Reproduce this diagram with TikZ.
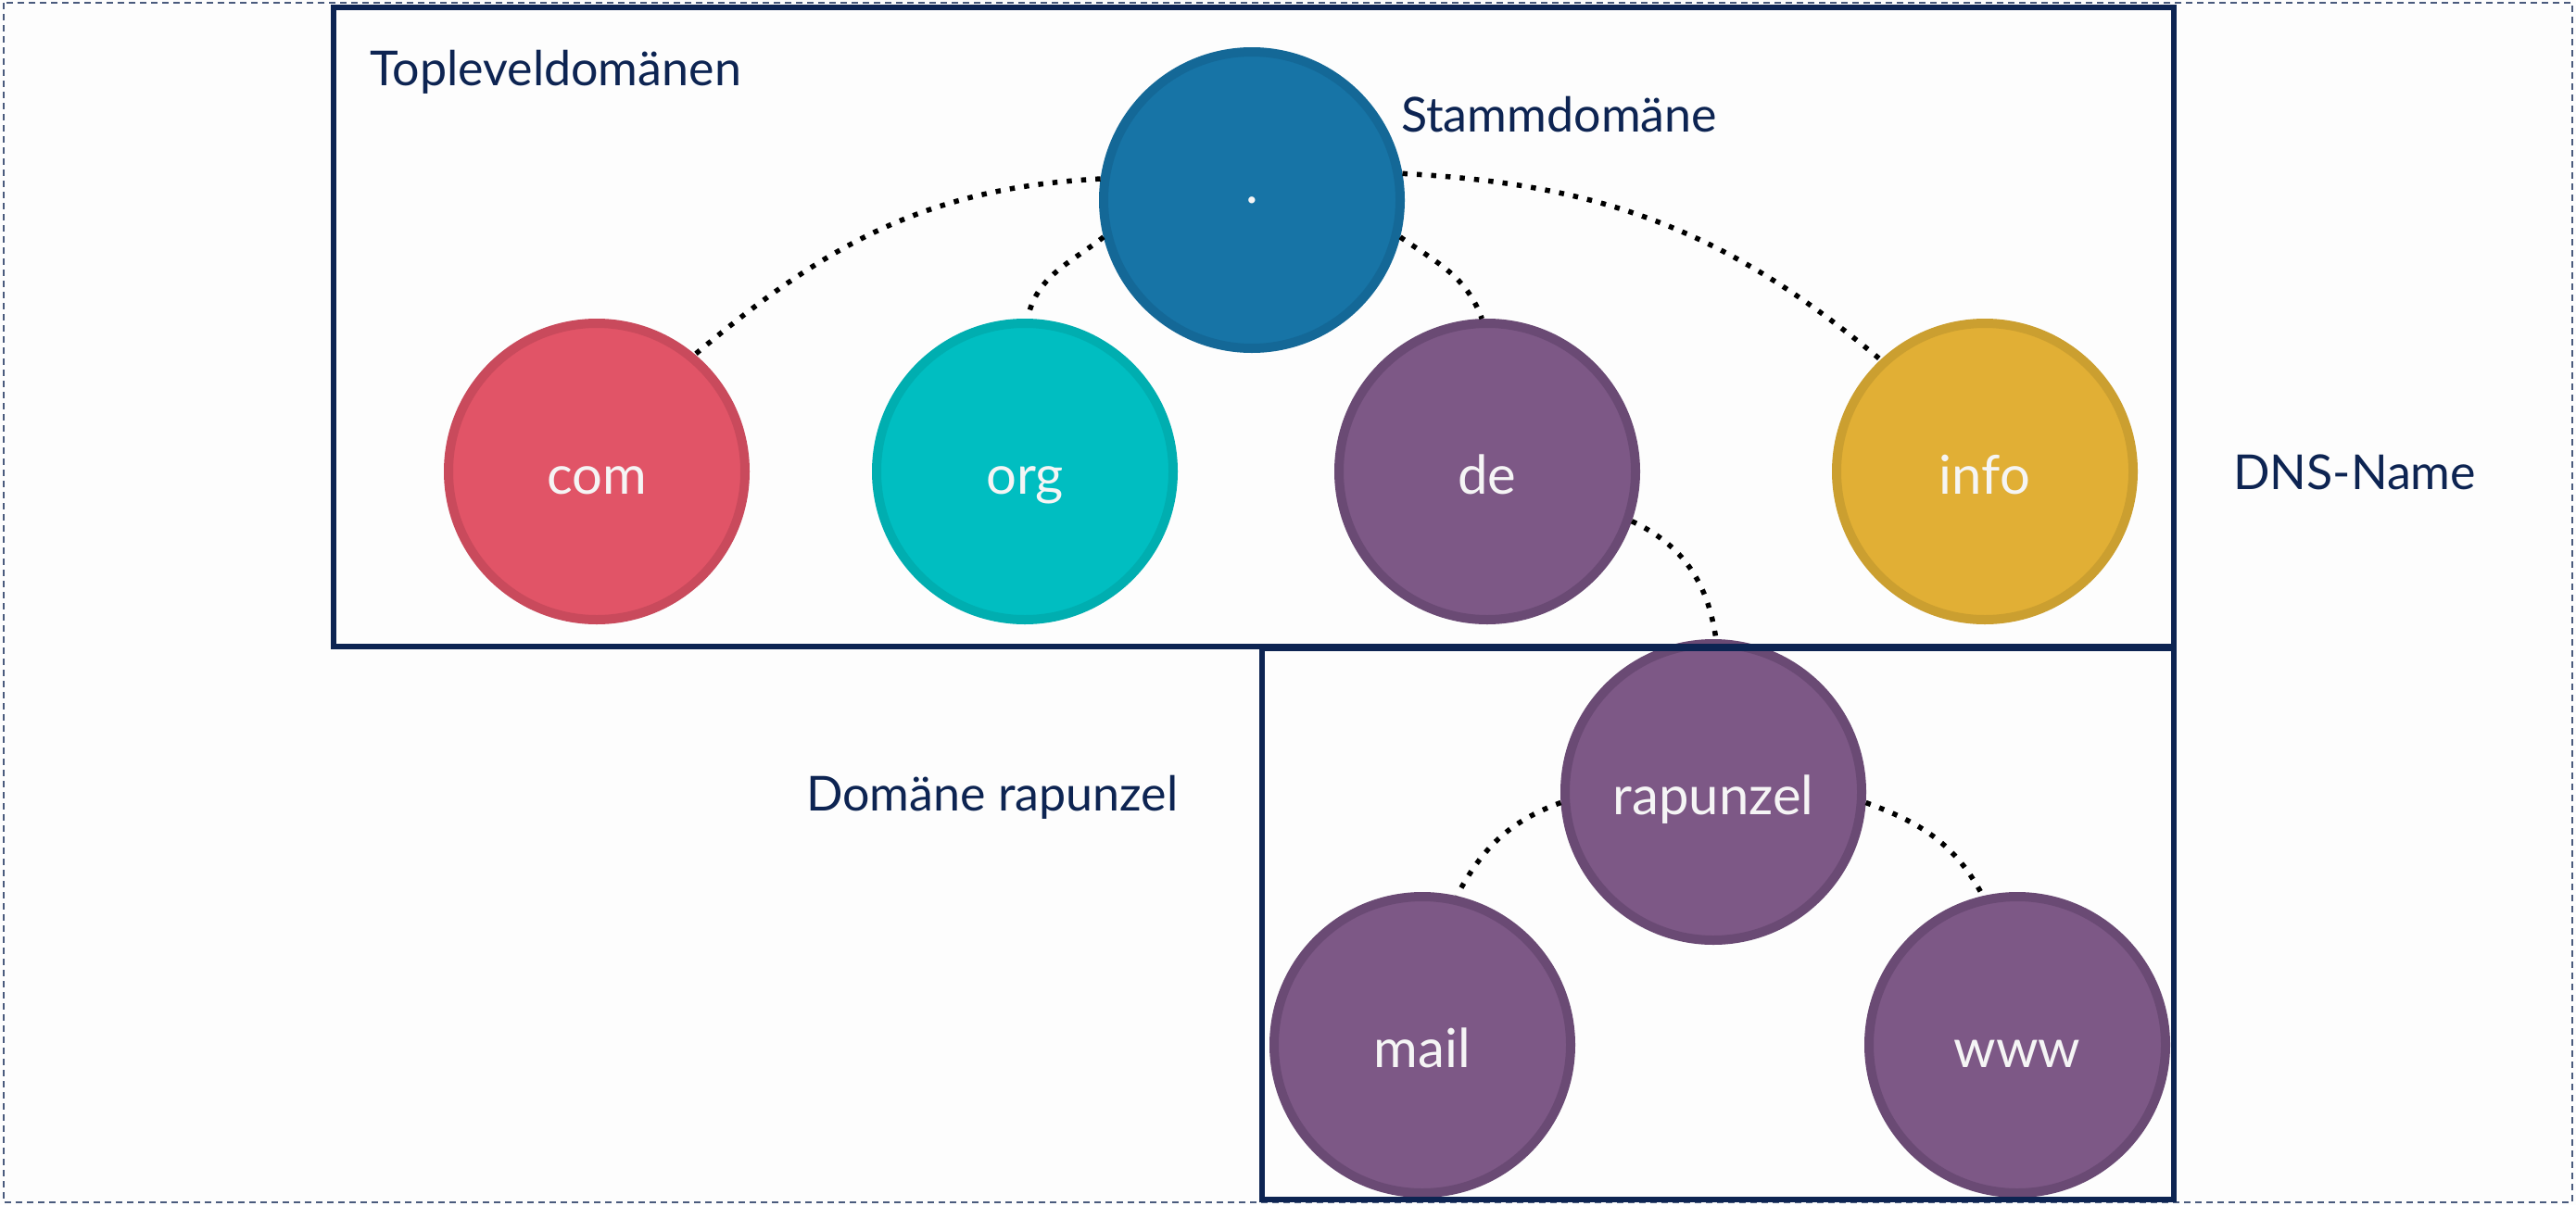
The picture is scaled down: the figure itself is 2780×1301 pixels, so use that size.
\documentclass[tikz,border=0pt]{standalone}
\usepackage{fontspec}
\setmainfont{Lato}
\definecolor{comfill}{HTML}{E15467}
\definecolor{comline}{HTML}{C94A5C}
\definecolor{orgfill}{HTML}{00BEC1}
\definecolor{orgline}{HTML}{00AEB0}
\definecolor{defill}{HTML}{7D5886}
\definecolor{deline}{HTML}{6A4A74}
\definecolor{infofill}{HTML}{E1AF35}
\definecolor{infoline}{HTML}{CB9F30}
\definecolor{rootfill}{HTML}{1774A6}
\definecolor{rootline}{HTML}{146897}
\definecolor{navy}{HTML}{0D2452}
\definecolor{circtext}{HTML}{F5F5F5}
\definecolor{bgcol}{HTML}{FDFDFD}
\begin{document}
\begin{tikzpicture}[x=1pt,y=1pt,
  dom/.style={circle, minimum size=320pt, inner sep=0pt, line width=10pt,
    text=circtext, font=\fontsize{58}{70}\selectfont,
    text height=55pt, text depth=6pt},
  conn/.style={line width=5.5pt, dash pattern=on 5.5pt off 10pt, line cap=butt, black},
  lab/.style={font=\fontsize{52}{62}\selectfont, text=navy, inner sep=0pt, anchor=base west},
  frame/.style={draw=navy, line width=6pt},
  outerframe/.style={draw=navy!75, line width=2.5pt, dash pattern=on 7pt off 5pt}]
\useasboundingbox (0,0) rectangle (2780,-1301);
\fill[bgcol] (0,0) rectangle (2780,-1301);
\draw[outerframe] (4,-3) rectangle (2776,-1298);

% circles
\node[dom, fill=rootfill, draw=rootline, text height=6pt, text depth=0pt] (root) at (1351,-216) {.};
\node[dom, fill=comfill, draw=comline] (com) at (644,-509) {com};
\node[dom, fill=orgfill, draw=orgline] (org) at (1106,-509) {org};
\node[dom, fill=defill, draw=deline] (de) at (1605,-509) {de};
\node[dom, fill=infofill, draw=infoline] (info) at (2142,-509) {info};
\node[dom, fill=defill, draw=deline] (rap) at (1849,-855) {rapunzel};
\node[dom, fill=defill, draw=deline] (mail) at (1535,-1128) {mail};
\node[dom, fill=defill, draw=deline] (www) at (2177,-1128) {www};

% connectors
\draw[conn] (root.172) to[out=183,in=40] (com.50);
\draw[conn] (root.194) to[out=218,in=78] (org.89);
\draw[conn] (root.-14) to[out=-35,in=110] (de.92);
\draw[conn] (root.10) to[out=-3,in=140] (info.133);
\draw[conn] (de.-19) to[out=-25,in=98] (rap.89);
\draw[conn] (rap.184) to[out=200,in=62] (mail.77);
\draw[conn] (rap.-4) to[out=-20,in=118] (www.103);

% frames
\draw[frame] (360,-8) rectangle (2346,-698);
\draw[frame] (1362,-700) rectangle (2346,-1295);

% labels
\node[lab] (ltld) at (399,-92) {Topleveldomänen};
\node[lab] (lstamm) at (1512,-142) {Stammdomäne};
\node[lab] (ldns) at (2410,-528) {DNS-Name};
\node[lab] (lrap) at (870,-875) {Domäne rapunzel};
\end{tikzpicture}
\end{document}
